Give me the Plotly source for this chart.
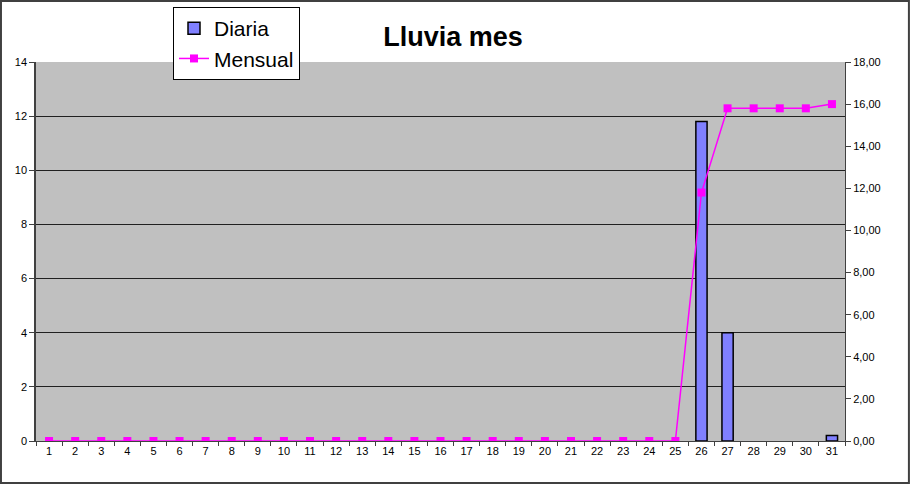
import plotly.graph_objects as go

dias = [str(d) for d in range(1, 32)]
diaria = [None] * 25 + [11.8, 4.0, None, None, None, 0.2]
mensual = [0] * 25 + [11.8, 15.8, 15.8, 15.8, 15.8, 16.0]

fig = go.Figure()

fig.add_trace(go.Bar(x=dias, y=diaria, name="Diaria", width=0.43,
                     marker=dict(color="#8080FF", line=dict(color="black", width=1.5))))

fig.add_trace(go.Scatter(x=dias, y=mensual, name="Mensual", yaxis="y2", mode="lines+markers",
                         line=dict(color="#FF00FF", width=1.5),
                         marker=dict(symbol="square", size=8, color="#FF00FF")))

fig.update_layout(
    width=911, height=485,
    margin=dict(l=36, r=66, t=62, b=44, autoexpand=False),
    paper_bgcolor="white", plot_bgcolor="#C0C0C0",
    font=dict(family="Liberation Sans, Arial", size=11, color="black"),
    separators=",.",
    title=dict(text="<b>Lluvia mes</b>", x=453 / 911, xref="container", xanchor="center",
               y=1 - 37 / 485, yref="container", yanchor="middle",
               font=dict(size=27, color="black")),
    showlegend=True,
    legend=dict(xref="container", yref="container", x=173 / 911, y=1 - 7 / 485,
                xanchor="left", yanchor="top", bgcolor="white",
                bordercolor="black", borderwidth=1, font=dict(size=21),
                tracegroupgap=0, itemwidth=30),
    xaxis=dict(type="category", range=[-0.5, 30.5], tickson="boundaries", ticks="outside", ticklen=4,
               tickcolor="#404040", showline=True, linecolor="#404040", showgrid=False,
               tickfont=dict(size=11), automargin=False),
    yaxis=dict(range=[0, 14], dtick=2, ticks="outside", ticklen=5, tickcolor="#404040",
               showline=True, linecolor="#404040", linewidth=1.5, showgrid=True, gridcolor="#202020",
               gridwidth=1, zeroline=False, tickfont=dict(size=11), automargin=False),
    yaxis2=dict(range=[0, 18], dtick=2, overlaying="y", side="right", tickformat=".2f",
                ticks="outside", ticklen=5, tickcolor="#404040", showline=True, linecolor="#404040",
                showgrid=False, zeroline=False, tickfont=dict(size=11), automargin=False),
)

# marco exterior del grafico
fig.add_shape(type="rect", xref="paper", yref="paper", x0=-0.0433, x1=1.079, y0=-0.111, y1=1.161,
              line=dict(color="#404040", width=2), fillcolor="rgba(0,0,0,0)", layer="below")

# sin margen de pagina para que la figura empiece en 0,0
fig.write_html("out.html", config={"displayModeBar": False},
               post_script="document.body.style.margin='0';")
